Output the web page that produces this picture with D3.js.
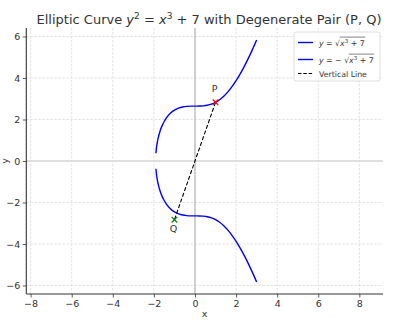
<!DOCTYPE html>
<html>
<head>
<meta charset="utf-8">
<script src="https://cdn.jsdelivr.net/npm/d3@7"></script>
<style>
  html, body { margin: 0; padding: 0; background: #fff; }
  svg { display: block; font-family: "DejaVu Sans", sans-serif; }
</style>
</head>
<body>
<svg id="chart" width="396" height="323"></svg>
<script>
// Sample points along y = ±sqrt(x^3 + 7)
const xs = [-1.9, -1.88, -1.85, -1.8, -1.7, -1.6, -1.5, -1.4, -1.2, -1.0, -0.8, -0.6, -0.4, -0.2, 0,
            0.2, 0.4, 0.6, 0.8, 1.0, 1.2, 1.4, 1.6, 1.8, 2.0, 2.2, 2.4, 2.6, 2.8, 3.0];
const upperY = [0.3755, 0.596, 0.8176, 1.0807, 1.4446, 1.7041, 1.9039, 2.0630, 2.2961, 2.4495, 2.5472, 2.6046, 2.6336, 2.6443, 2.6458,
                2.6473, 2.6578, 2.6863, 2.7408, 2.8284, 2.9543, 3.1215, 3.3311, 3.5822, 3.8730, 4.2010, 4.5633, 4.9574, 5.3807, 5.8310];
const lowerY = [-0.3755, -0.596, -0.8176, -1.0807, -1.4446, -1.7041, -1.9039, -2.0630, -2.2961, -2.4495, -2.5472, -2.6046, -2.6336, -2.6443, -2.6458,
                -2.6473, -2.6578, -2.6863, -2.7408, -2.8284, -2.9543, -3.1215, -3.3311, -3.5822, -3.8730, -4.2010, -4.5633, -4.9574, -5.3807, -5.8310];

// The pair of points joined by the dashed segment
const pointNames = ["P", "Q"];
const pointX = [1, -1];
const pointY = [2.8284, -2.8284];
const pointColors = ["red", "green"];

const xTicks = [-8, -6, -4, -2, 0, 2, 4, 6, 8];
const yTicks = [-6, -4, -2, 0, 2, 4, 6];

const W = 396, H = 323;
const margin = { left: 26.3, right: 13, top: 28, bottom: 29 };
const svg = d3.select("#chart");

const x = d3.scaleLinear().domain([-8.21, 9.15]).range([margin.left, W - margin.right]);
const y = d3.scaleLinear().domain([-6.41, 6.41]).range([H - margin.bottom, margin.top]);

const plot = svg.append("g");

// grid
plot.append("g").selectAll("line").data(xTicks).join("line")
  .attr("x1", d => x(d)).attr("x2", d => x(d))
  .attr("y1", y.range()[1]).attr("y2", y.range()[0])
  .attr("stroke", "#d6d6d6").attr("stroke-width", 0.7).attr("stroke-dasharray", "2.5,1.5");
plot.append("g").selectAll("line").data(yTicks).join("line")
  .attr("y1", d => y(d)).attr("y2", d => y(d))
  .attr("x1", x.range()[0]).attr("x2", x.range()[1])
  .attr("stroke", "#d6d6d6").attr("stroke-width", 0.7).attr("stroke-dasharray", "2.5,1.5");

// zero lines
plot.append("line")
  .attr("x1", x.range()[0]).attr("x2", x.range()[1])
  .attr("y1", y(0)).attr("y2", y(0))
  .attr("stroke", "#d8d8d8").attr("stroke-width", 1.6);
plot.append("line")
  .attr("x1", x(0)).attr("x2", x(0))
  .attr("y1", y.range()[1]).attr("y2", y.range()[0])
  .attr("stroke", "#b0b0b0").attr("stroke-width", 1.1);

// curves
const line = d3.line().x(d => x(d[0])).y(d => y(d[1])).curve(d3.curveMonotoneX);
const upper = xs.map((v, i) => [v, upperY[i]]);
const lower = xs.map((v, i) => [v, lowerY[i]]);
plot.append("path").attr("d", line(upper)).attr("fill", "none").attr("stroke", "blue").attr("stroke-width", 1.4);
plot.append("path").attr("d", line(lower)).attr("fill", "none").attr("stroke", "blue").attr("stroke-width", 1.4);

// dashed segment between P and Q
plot.append("line")
  .attr("x1", x(pointX[0])).attr("y1", y(pointY[0]))
  .attr("x2", x(pointX[1])).attr("y2", y(pointY[1]))
  .attr("stroke", "black").attr("stroke-width", 1.1).attr("stroke-dasharray", "4,2");

// markers and labels
const ms = 2.8;
pointNames.forEach((name, i) => {
  const cx = x(pointX[i]), cy = y(pointY[i]);
  plot.append("path")
    .attr("d", `M${cx - ms},${cy - ms}L${cx + ms},${cy + ms}M${cx - ms},${cy + ms}L${cx + ms},${cy - ms}`)
    .attr("stroke", pointColors[i]).attr("stroke-width", 1.2);
  plot.append("text")
    .attr("x", cx - 1).attr("y", i === 0 ? cy - 10 : cy + 12)
    .attr("text-anchor", "middle").attr("font-size", 9.5).attr("fill", "#333")
    .text(name);
});

// axes spines
const axisColor = "#333";
const xAxis = d3.axisBottom(x).tickValues(xTicks).tickSize(3.5).tickPadding(2.5).tickFormat(d => d < 0 ? "\u2212" + Math.abs(d) : d);
const yAxis = d3.axisLeft(y).tickValues(yTicks).tickSize(3.5).tickPadding(2.5).tickFormat(d => d < 0 ? "\u2212" + Math.abs(d) : d);
const gx = svg.append("g").attr("transform", `translate(0,${H - margin.bottom})`).call(xAxis);
const gy = svg.append("g").attr("transform", `translate(${margin.left},0)`).call(yAxis);
[gx, gy].forEach(g => {
  g.select(".domain").attr("stroke", axisColor).attr("stroke-width", 1.1);
  g.selectAll(".tick line").attr("stroke", axisColor).attr("stroke-width", 0.8);
  g.selectAll(".tick text").attr("fill", "#333").attr("font-size", 9.5).attr("font-family", "DejaVu Sans, sans-serif");
});
gx.select(".domain").attr("d", `M${x.range()[0]},0H${x.range()[1]}`);
gy.select(".domain").attr("d", `M0,${y.range()[0]}V${y.range()[1]}`);

// axis labels
svg.append("text").attr("x", (x.range()[0] + x.range()[1]) / 2).attr("y", 317)
  .attr("text-anchor", "middle").attr("font-size", 9.5).attr("fill", "#333").text("x");
svg.append("text").attr("transform", `translate(8,${(y.range()[0] + y.range()[1]) / 2}) rotate(-90)`)
  .attr("text-anchor", "middle").attr("font-size", 9.5).attr("fill", "#333").text("y");

// title
const title = svg.append("text").attr("x", 209).attr("y", 24).attr("text-anchor", "middle")
  .attr("font-size", 13).attr("fill", "#333");
title.append("tspan").text("Elliptic Curve ");
title.append("tspan").attr("font-style", "italic").text("y");
title.append("tspan").attr("font-size", 9).attr("dy", -5).text("2");
title.append("tspan").attr("dy", 5).text(" = ");
title.append("tspan").attr("font-style", "italic").text("x");
title.append("tspan").attr("font-size", 9).attr("dy", -5).text("3");
title.append("tspan").attr("dy", 5).text(" + 7 with Degenerate Pair (P, Q)");

// legend
const lg = svg.append("g").attr("transform", "translate(294,32)");
lg.append("rect").attr("width", 86).attr("height", 49).attr("rx", 2)
  .attr("fill", "white").attr("fill-opacity", 0.85).attr("stroke", "#d6d6d6").attr("stroke-width", 0.8);
const entries = [
  { sign: "", color: "blue", ry: 10.5 },
  { sign: "\u2212", color: "blue", ry: 27.5 },
];
entries.forEach(e => {
  lg.append("line").attr("x1", 4).attr("x2", 19).attr("y1", e.ry).attr("y2", e.ry)
    .attr("stroke", e.color).attr("stroke-width", 1.4);
  const t = lg.append("text").attr("x", 25).attr("y", e.ry + 3).attr("font-size", 7.8).attr("fill", "#333");
  t.append("tspan").attr("font-style", "italic").text("y");
  const pre = " = " + (e.sign ? e.sign + " " : "") + "\u221A";
  t.append("tspan").text(pre);
  t.append("tspan").attr("font-style", "italic").text("x");
  t.append("tspan").attr("font-size", 5.5).attr("dy", -3).text("3");
  t.append("tspan").attr("dy", 3).text(" + 7");
  // overline of the radical
  const full = t.node().getComputedTextLength();
  const startX = 25 + t.node().getSubStringLength(0, 1 + pre.length);
  lg.append("line").attr("x1", startX - 0.3).attr("x2", 25 + full + 0.5)
    .attr("y1", e.ry - 5.4).attr("y2", e.ry - 5.4).attr("stroke", "#333").attr("stroke-width", 0.6);
});
lg.append("line").attr("x1", 4).attr("x2", 19).attr("y1", 41.5).attr("y2", 41.5)
  .attr("stroke", "black").attr("stroke-width", 1.1).attr("stroke-dasharray", "3.5,1.8");
lg.append("text").attr("x", 25).attr("y", 44.5).attr("font-size", 7.8).attr("fill", "#333").text("Vertical Line");
</script>
</body>
</html>
